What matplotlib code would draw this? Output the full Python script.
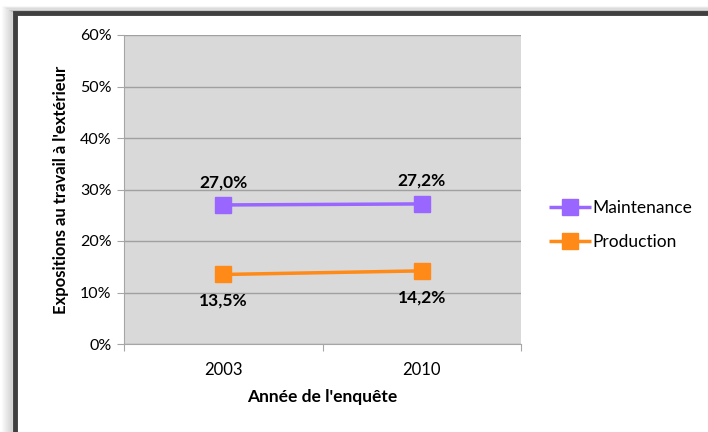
import matplotlib.pyplot as plt
import matplotlib.patches as patches
from matplotlib.ticker import PercentFormatter

# data
years = ["2003", "2010"]
maintenance = [27.0, 27.2]
production = [13.5, 14.2]
series_names = ["Maintenance", "Production"]
colors = ["#9966FF", "#FF8A17"]

plt.rcParams['font.family'] = ['Lato', 'DejaVu Sans']

W, H = 708, 432
fig = plt.figure(figsize=(W / 100, H / 100), dpi=100)

# frame with a soft shadow on the left and top
for i in range(11):
    a = 0.015 + 0.012 * i
    fig.patches.append(patches.Rectangle((2 + i, -20), 800, 432 - 6 - i * 0.6 + 20,
                                         transform=None, fill=False, zorder=-3,
                                         edgecolor=(0, 0, 0, a), linewidth=1))
fig.patches.append(patches.Rectangle((14.5, -20), 800, 432 - 13 + 20,
                                     transform=None, fill=True, facecolor="white",
                                     edgecolor="#3f3f3f", linewidth=3.5, zorder=-2))

ax = fig.add_axes([124 / W, 88 / H, 397 / W, 309 / H])
ax.set_facecolor("#D9D9D9")

x = [0, 1]
for vals, name, c in zip([maintenance, production], series_names, colors):
    ax.plot(x, vals, color=c, linewidth=2.5, marker="s", markersize=11, label=name,
            solid_capstyle="butt", zorder=3)

for i, v in enumerate(maintenance):
    ax.annotate(f"{v:.1f}%".replace(".", ","), (x[i], v), xytext=(0, 16.5),
                textcoords="offset points", ha="center", va="center",
                fontsize=12.5, fontweight="bold")
for i, v in enumerate(production):
    ax.annotate(f"{v:.1f}%".replace(".", ","), (x[i], v), xytext=(0, -19),
                textcoords="offset points", ha="center", va="center",
                fontsize=12.5, fontweight="bold")

ax.set_xlim(-0.5, 1.5)
ax.set_ylim(0, 60)
ax.set_yticks(range(0, 61, 10))
ax.yaxis.set_major_formatter(PercentFormatter(decimals=0))
ax.set_xticks([-0.5, 0.5, 1.5])
ax.set_xticklabels([])
ax.set_xticks(x, minor=True)
ax.set_xticklabels(years, minor=True)
ax.tick_params(axis="x", which="minor", length=0, pad=13, labelsize=12)
ax.tick_params(axis="x", which="major", length=5, color="#A6A6A6", direction="out")
ax.tick_params(axis="y", length=5, color="#A6A6A6", labelsize=11.5, pad=4)
ax.grid(axis="y", color="#A0A0A0", linewidth=1)
ax.set_axisbelow(True)
for s in ["top", "right"]:
    ax.spines[s].set_visible(False)
ax.spines["left"].set_color("#A6A6A6")
ax.spines["bottom"].set_color("#A6A6A6")

ax.set_xlabel("Année de l'enquête", fontsize=12.5, fontweight="bold", labelpad=8)
ax.set_ylabel("Expositions au travail à l'extérieur", fontsize=12, fontweight="bold",
              labelpad=8)

fig.legend(loc="upper left", bbox_to_anchor=(542 / W, 1 - 193 / H), frameon=False,
           fontsize=12.5, handlelength=2.4, handletextpad=0.1, labelspacing=1.05,
           borderaxespad=0)

fig.savefig("out.png", dpi=100)
